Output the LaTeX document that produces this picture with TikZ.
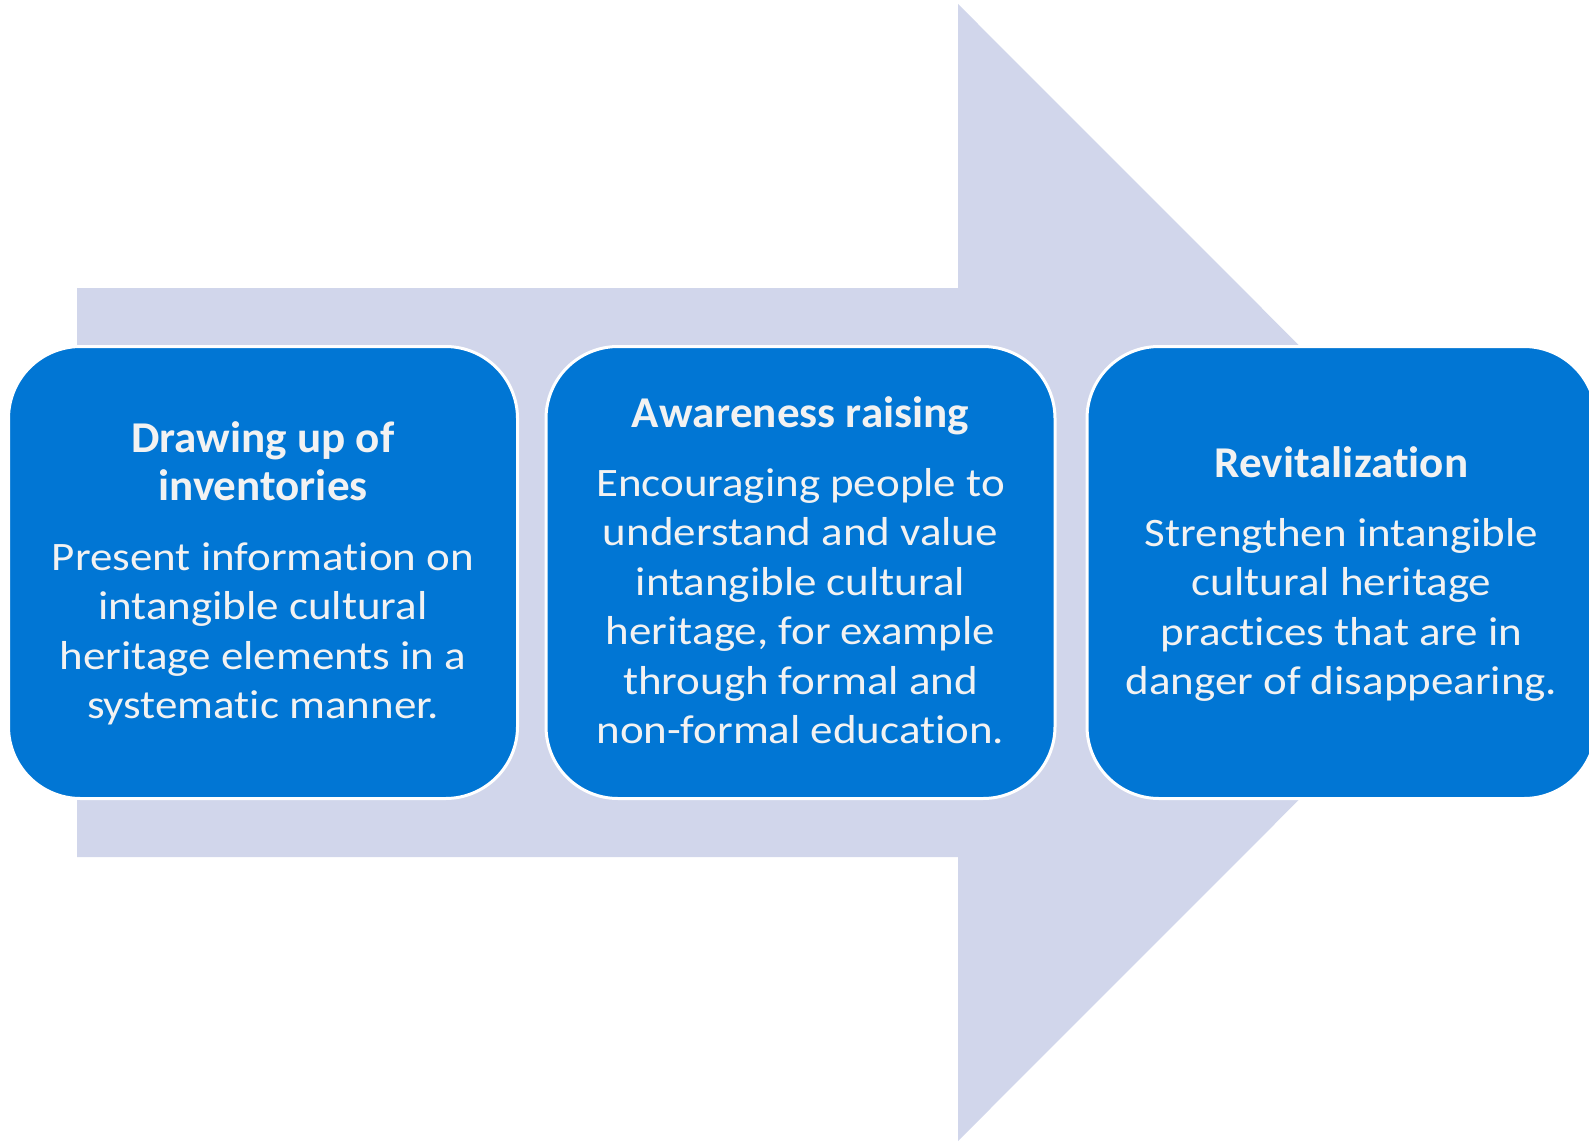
\documentclass[tikz,border=0pt]{standalone}
\usepackage{fontspec}
\setmainfont{Carlito}[Ligatures=NoCommon]
\newfontfamily\bodyfont{Carlito}[FakeStretch=1.113,Ligatures=NoCommon]
\newfontfamily\titlefont{Carlito}[FakeStretch=1.025,Ligatures=NoCommon]
\definecolor{boxblue}{RGB}{1,118,212}
\definecolor{lav}{RGB}{209,214,235}
\definecolor{txt}{RGB}{242,242,242}
\begin{document}
\begin{tikzpicture}[x=1pt,y=-1pt,
  box/.style={fill=boxblue,draw=white,line width=3pt,rounded corners=72pt,
    minimum width=509pt,minimum height=452pt,inner sep=0pt},
  ttl/.style={anchor=north,align=center,inner sep=0pt,text=txt,
    font=\titlefont\fontsize{44}{48}\selectfont\bfseries},
  bdy/.style={anchor=north,align=center,inner sep=0pt,text=txt,
    font=\bodyfont\fontsize{40.4}{49.5}\selectfont}]
\newcommand{\tstrut}{\rule{0pt}{40pt}}
\useasboundingbox (0,0) rectangle (1589,1142);
\clip (0,0) rectangle (1589,1142);
% big arrow
\fill[lav] (77,288) -- (958,288) -- (958,4) -- (1526,572.5) -- (958,1141)
  -- (958,857) -- (77,857) -- cycle;
% boxes
\node[box] (b1) at (263,572.5) {};
\node[box] (b2) at (800.5,572.5) {};
\node[box] (b3) at (1341.5,572.5) {};
% box 1
\node[ttl] (t1) at (263,412) {\tstrut Drawing up of\\inventories};
\node[bdy] (d1) at (263,530) {\tstrut Present information on\\intangible cultural\\heritage elements in a\\systematic manner.};
% box 2
\node[ttl] (t2) at (800.5,387) {\tstrut Awareness raising};
\node[bdy] (d2) at (800.5,456) {\tstrut Encouraging people to\\understand and value\\intangible cultural\\heritage, for example\\through formal and\\non-formal education.};
% box 3
\node[ttl] (t3) at (1341.5,437) {\tstrut Revitalization};
\node[bdy] (d3) at (1341.5,506) {\tstrut Strengthen intangible\\cultural heritage\\practices that are in\\danger of disappearing.};
\end{tikzpicture}
\end{document}
